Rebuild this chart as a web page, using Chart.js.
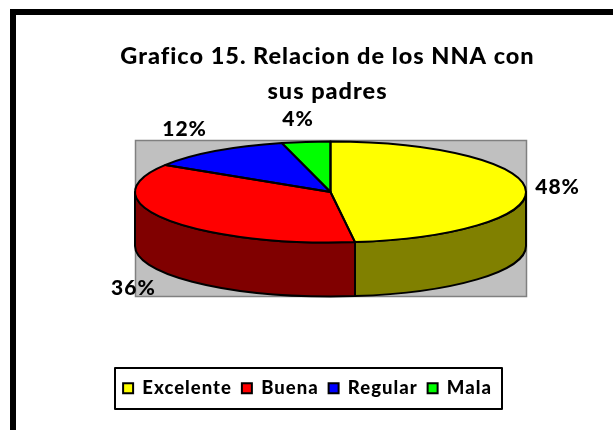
<!DOCTYPE html>
<html><head><meta charset="utf-8">
<style>
html,body{margin:0;padding:0;background:#fff;overflow:hidden;width:613px;height:430px}
#frame{position:absolute;left:10px;top:9px;width:603px;height:421px;box-sizing:border-box;border-left:6px solid #000;border-top:6px solid #000}
canvas{position:absolute;left:0;top:0}
</style>
<script src="https://cdn.jsdelivr.net/npm/chart.js@4/dist/chart.umd.min.js"></script>
</head><body>
<div id="frame"></div>
<canvas id="c" width="613" height="430"></canvas>
<script>
const categories = ['Excelente','Buena','Regular','Mala'];
const values = [48,36,12,4];
const topColors = ['#FFFF00','#FF0000','#0000FF','#00FF00'];
const sideColors = ['#808000','#800000','#000080','#008000'];
const titleLines = ['Grafico 15. Relacion de los NNA con','sus padres'];
const labelOffsets = [[32,-2],[-32,69],[-31,-22],[-8,-23]];
const FONT = 'Lato';
const geo = {cx:330.5,cy:192,rx:195.5,ry:50.5,depth:54};
const plate = {x:135.5,y:140.5,w:391,h:156};
const legendBox = {x:115,y:368,w:387,h:41};
const SPACING = '1px';

const pie3d = {
  id:'pie3d',
  beforeLayout(chart){ chart.ctx.letterSpacing=SPACING; },
  beforeDraw(chart){ chart.ctx.letterSpacing=SPACING; },
  afterLayout(chart){
    const t = chart.titleBlock; t.left += 21; t.right += 21;
    const l = chart.legend; l.left += 1; l.right += 1; l.top = 369; l.bottom = 409;
  },
  beforeDatasetsDraw(chart){
    const ctx = chart.ctx, meta = chart.getDatasetMeta(0);
    const {cx,cy,rx,ry,depth} = geo;
    ctx.save();
    ctx.fillStyle='#C0C0C0'; ctx.strokeStyle='#808080'; ctx.lineWidth=1.5;
    ctx.fillRect(plate.x,plate.y,plate.w,plate.h); ctx.strokeRect(plate.x,plate.y,plate.w,plate.h);
    const ell = (y,a,b,ccw)=>{ctx.save();ctx.translate(cx,y);ctx.scale(rx,ry);ctx.arc(0,0,1,a,b,ccw);ctx.restore();};
    ctx.lineWidth=2; ctx.strokeStyle='#000'; ctx.lineJoin='round';
    // front walls
    meta.data.forEach((el,i)=>{
      const a0=Math.max(el.startAngle,0), a1=Math.min(el.endAngle,Math.PI);
      if(a1<=a0) return;
      ctx.beginPath(); ell(cy,a0,a1,false); ell(cy+depth,a1,a0,true); ctx.closePath();
      ctx.fillStyle=sideColors[i]; ctx.fill(); ctx.stroke();
    });
    // top face through the library's arc elements
    meta.data.forEach(el=>{
      const sx=rx/el.outerRadius, sy=ry/el.outerRadius;
      ctx.save(); ctx.translate(cx,cy); ctx.scale(sx,sy); ctx.translate(-el.x,-el.y);
      el.draw(ctx); ctx.restore();
    });
    meta.data.forEach(el=>{
      ctx.beginPath(); ctx.moveTo(cx,cy); ell(cy,el.startAngle,el.endAngle,false); ctx.closePath(); ctx.stroke();
    });
    // data labels
    ctx.fillStyle='#000'; ctx.font='900 21px '+FONT; ctx.textAlign='center'; ctx.textBaseline='middle';
    meta.data.forEach((el,i)=>{
      const m=(el.startAngle+el.endAngle)/2;
      ctx.fillText(values[i]+'%',cx+rx*Math.cos(m)+labelOffsets[i][0],cy+ry*Math.sin(m)+labelOffsets[i][1]);
    });
    // legend frame
    ctx.lineWidth=2; ctx.strokeStyle='#000'; ctx.strokeRect(legendBox.x,legendBox.y,legendBox.w,legendBox.h);
    ctx.restore();
    return false;
  }
};

new Chart(document.getElementById('c'),{
  type:'pie',
  plugins:[pie3d],
  data:{labels:categories,datasets:[{data:values,backgroundColor:topColors,borderColor:'#000',borderWidth:0}]},
  options:{
    responsive:false,animation:false,
    plugins:{
      tooltip:{enabled:false},
      title:{display:true,text:titleLines,color:'#000',font:{family:FONT,weight:'900',size:23.5,lineHeight:1.49},padding:{top:39,bottom:0}},
      legend:{position:'bottom',labels:{
        color:'#000',font:{family:FONT,weight:'900',size:18.5},boxWidth:10,boxHeight:10,padding:10,
        generateLabels(chart){
          return Chart.overrides.pie.plugins.legend.labels.generateLabels(chart).map(i=>Object.assign(i,{lineWidth:2,strokeStyle:'#000'}));
        }
      }}
    }
  }
});
</script>
</body></html>
